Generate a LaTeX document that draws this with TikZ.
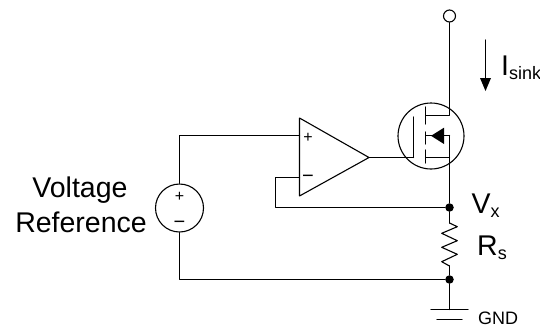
\documentclass[tikz,border=0pt]{standalone}
\usepackage{fontspec}
\setmainfont{Liberation Sans}
\usetikzlibrary{arrows.meta}
\tikzset{
  x=1pt,y=-1pt,
  wire/.style={line width=1.1pt,line cap=round,line join=round},
  dot/.style={circle,fill=black,inner sep=0pt,minimum size=8.5pt},
  ring/.style={circle,draw,line width=1.1pt,inner sep=0pt},
  lbl/.style={inner sep=0pt,font=\fontsize{28.5}{32}\selectfont},
  plussign/.style={inner sep=0pt,font=\fontsize{16}{16}\selectfont},
  minussign/.style={inner sep=0pt,font=\fontsize{20}{20}\selectfont},
  gndlbl/.style={inner sep=0pt,font=\fontsize{18}{20}\selectfont,anchor=base west},
}
\newcommand{\subt}[1]{\raisebox{-4pt}{\fontsize{18}{18}\selectfont #1}}
\begin{document}
\begin{tikzpicture}
\useasboundingbox (0,0) rectangle (540,327);
% supply and main rail
\node[ring,minimum size=12pt] (vdd) at (449.5,16) {};
\coordinate (drain) at (449.5,115.5);
\coordinate (bodyT) at (449.5,135.5);
\coordinate (source) at (449.5,157.5);
\node[dot] (vx) at (449.5,207.5) {};
\node[dot] (gndj) at (449.5,279.5) {};
\coordinate (rtop) at (449.5,223);
\coordinate (rbot) at (449.5,266);
\coordinate (gnd) at (449.5,309.5);
\draw[wire] (vdd) -- (drain) -- (425.7,115.5);
\draw[wire] (bodyT) -- (source);
\draw[wire] (source) -- (vx) -- (rtop);
\draw[wire] (rtop) -- (457.3,226.7) -- (441.7,233.3) -- (457.3,240.7) -- (441.7,247.3) -- (457.3,254.3) -- (441.7,261.7) -- (rbot);
\draw[wire] (rbot) -- (gndj) -- (gnd);
\draw[wire] (431,309.5) -- (468,309.5);
\draw[wire] (437,319.5) -- (462,319.5);
\node[gndlbl] (gndt) at (478,324) {GND};
% current arrow
\coordinate (ia) at (485.5,40);
\coordinate (ib) at (485.5,80);
\draw[wire] (ia) -- (ib);
\fill (480,78) -- (491,78) -- (485.5,91) -- cycle;
\node[lbl,anchor=base west] (isink) at (501,75.5) {I\subt{sink}};
% MOSFET
\node[ring,minimum size=66pt] (q) at (431,136) {};
\coordinate (gate) at (413.5,157.5);
\draw[wire] (413.5,117) -- (gate);
\draw[wire] (425.7,107) -- (425.7,124);
\draw[wire] (425.7,132) -- (425.7,144);
\draw[wire] (425.7,150) -- (425.7,163);
\draw[wire] (425.7,135.5) -- (bodyT);
\draw[wire] (425.7,157.5) -- (source);
\fill (431,135.8) -- (444,127.7) -- (444,144) -- cycle;
% op amp
\coordinate (otl) at (299.5,118);
\coordinate (obl) at (299.5,196);
\coordinate (oout) at (369,157.5);
\draw[wire] (otl) -- (oout) -- (obl) -- cycle;
\coordinate (oplus) at (299.5,135.5);
\coordinate (ominus) at (299.5,177.5);
\node[plussign] (op) at (308,138) {+};
\node[minussign] (om) at (308,179) {−};
\draw[wire] (oout) -- (gate);
% voltage source
\node[ring,minimum size=48pt] (vs) at (179.5,208) {};
\node[plussign] (vp) at (179.5,197) {+};
\node[minussign] (vm) at (179.5,225) {−};
\draw[wire] (vs.north) -- (179.5,135.5) -- (oplus);
\draw[wire] (vs.south) -- (179.5,279.5) -- (gndj);
\draw[wire] (ominus) -- (275.5,177.5) -- (275.5,207.5) -- (vx);
% labels
\node[lbl,anchor=base] (l1) at (80,197) {Voltage};
\node[lbl,anchor=base] (l2) at (81,232) {Reference};
\node[lbl,anchor=base west] (vxl) at (471.5,213) {V\subt{x}};
\node[lbl,anchor=base west] (rsl) at (477,255.7) {R\subt{s}};
\end{tikzpicture}
\end{document}
